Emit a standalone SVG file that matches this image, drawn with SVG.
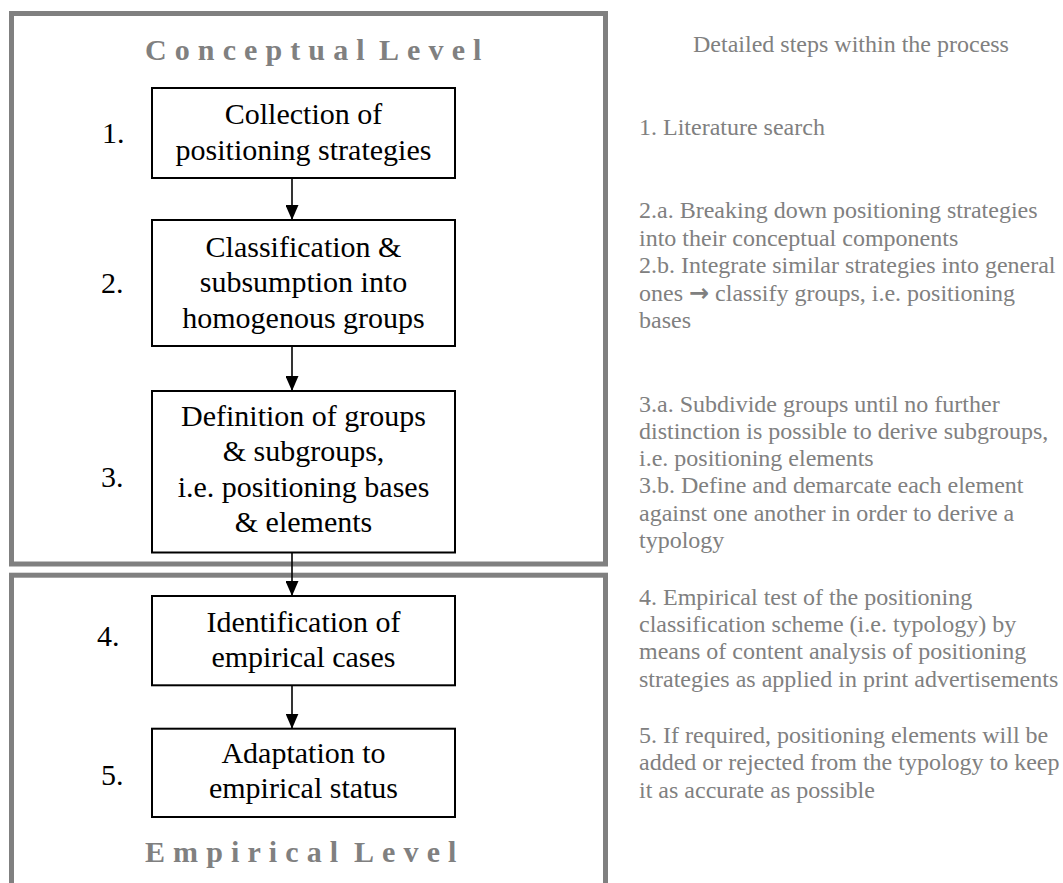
<svg xmlns="http://www.w3.org/2000/svg" width="1063" height="883" viewBox="0 0 1063 883">
<defs>
<style>
.lvl{fill:none;stroke:#808080;stroke-width:5}
.box{fill:#fff;stroke:#000;stroke-width:2}
.t{font-family:"Liberation Serif","Times New Roman",serif;font-size:30px;fill:#000}
.c{text-anchor:middle}
.ttl{font-family:"Liberation Serif","Times New Roman",serif;font-size:30px;font-weight:bold;fill:#808080;letter-spacing:8.1px}
.r{font-family:"Liberation Serif","Times New Roman",serif;font-size:24px;fill:#808080}
.arr{font-family:"DejaVu Sans",sans-serif;font-weight:bold}
.con{stroke:#000;stroke-width:1.6;fill:none}
</style>
<marker id="ah" markerUnits="userSpaceOnUse" markerWidth="15" markerHeight="13" refX="15" refY="6.5" orient="auto" viewBox="0 0 15 13">
<path d="M0,0 L15,6.5 L0,13 z" fill="#000"/>
</marker>
</defs>
<rect width="1063" height="883" fill="#fff"/>
<g id="conceptual-level">
<rect class="lvl" x="11.5" y="13.5" width="594" height="550.5"/>
<text class="ttl" y="60"><tspan x="145">Conceptual</tspan><tspan x="379">Level</tspan></text>
</g>
<g id="empirical-level">
<rect class="lvl" x="11.5" y="575.2" width="594" height="330"/>
<text class="ttl" y="862"><tspan x="145">Empirical</tspan><tspan x="354">Level</tspan></text>
</g>
<g id="step1">
<rect class="box" x="152" y="88" width="303" height="90"/>
<text class="t" x="102" y="143">1.</text>
<text class="t c" x="303.5" y="124">Collection of</text>
<text class="t c" x="303.5" y="160">positioning strategies</text>
</g>
<g id="step2">
<rect class="box" x="152" y="220" width="303" height="126"/>
<text class="t" x="101" y="293">2.</text>
<text class="t c" x="303.5" y="256.7">Classification &amp;</text>
<text class="t c" x="303.5" y="292">subsumption into</text>
<text class="t c" x="303.5" y="327.7">homogenous groups</text>
</g>
<g id="step3">
<rect class="box" x="152" y="391" width="303" height="161.5"/>
<text class="t" x="101" y="486.7">3.</text>
<text class="t c" x="303.5" y="425.7">Definition of groups</text>
<text class="t c" x="303.5" y="460.7">&amp; subgroups,</text>
<text class="t c" x="303.5" y="496.7">i.e. positioning bases</text>
<text class="t c" x="303.5" y="531.7">&amp; elements</text>
</g>
<g id="step4">
<rect class="box" x="152" y="596" width="303" height="89.3"/>
<text class="t" x="97" y="645.7">4.</text>
<text class="t c" x="303.5" y="631.7">Identification of</text>
<text class="t c" x="303.5" y="667.3">empirical cases</text>
</g>
<g id="step5">
<rect class="box" x="152" y="728.7" width="303" height="88.3"/>
<text class="t" x="101" y="785">5.</text>
<text class="t c" x="303.5" y="763.3">Adaptation to</text>
<text class="t c" x="303.5" y="798.3">empirical status</text>
</g>
<g id="connectors">
<line class="con" x1="292" y1="178" x2="292" y2="220" marker-end="url(#ah)"/>
<line class="con" x1="292" y1="346" x2="292" y2="391" marker-end="url(#ah)"/>
<line class="con" x1="292" y1="552.5" x2="292" y2="596" marker-end="url(#ah)"/>
<line class="con" x1="292" y1="685.3" x2="292" y2="728.7" marker-end="url(#ah)"/>
</g>
<g id="details">
<text class="r" x="851" y="51.7" text-anchor="middle">Detailed steps within the process</text>
<text class="r" x="639" y="135">1. Literature search</text>
<text class="r" x="639" y="218.3">2.a. Breaking down positioning strategies</text>
<text class="r" x="639" y="246">into their conceptual components</text>
<text class="r" x="639" y="273.3">2.b. Integrate similar strategies into general</text>
<text class="r" x="639" y="301">ones <tspan class="arr">→</tspan> classify groups, i.e. positioning</text>
<text class="r" x="639" y="328.3">bases</text>
<text class="r" x="639" y="411.7">3.a. Subdivide groups until no further</text>
<text class="r" x="639" y="438.6">distinction is possible to derive subgroups,</text>
<text class="r" x="639" y="466">i.e. positioning elements</text>
<text class="r" x="639" y="493.3">3.b. Define and demarcate each element</text>
<text class="r" x="639" y="521">against one another in order to derive a</text>
<text class="r" x="639" y="548.3">typology</text>
<text class="r" x="639" y="605">4. Empirical test of the positioning</text>
<text class="r" x="639" y="632">classification scheme (i.e. typology) by</text>
<text class="r" x="639" y="659.3">means of content analysis of positioning</text>
<text class="r" x="639" y="686.7">strategies as applied in print advertisements</text>
<text class="r" x="639" y="743">5. If required, positioning elements will be</text>
<text class="r" x="639" y="770.4">added or rejected from the typology to keep</text>
<text class="r" x="639" y="797.8">it as accurate as possible</text>
</g>
</svg>
